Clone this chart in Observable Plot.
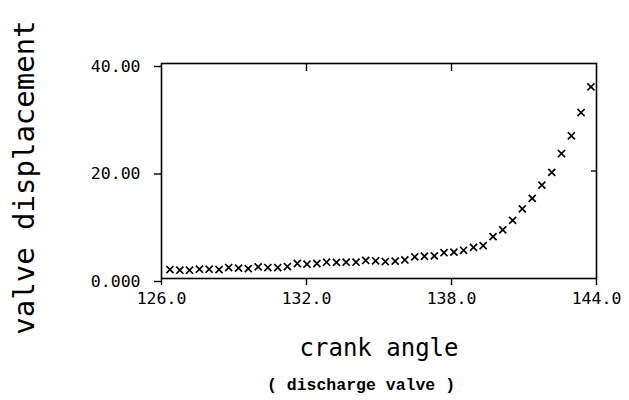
<!DOCTYPE html>
<html><head><meta charset="utf-8">
<script src="https://cdn.jsdelivr.net/npm/d3@7"></script>
<script src="https://cdn.jsdelivr.net/npm/@observablehq/plot@0.6"></script>
<style>html,body{margin:0;padding:0;background:#fff;}</style>
</head><body><div id="chart"></div>
<script>
const crankAngle = [126.35, 126.76, 127.16, 127.57, 127.97, 128.38, 128.78, 129.19, 129.59, 130.00,
  130.40, 130.81, 131.21, 131.62, 132.02, 132.43, 132.83, 133.24, 133.64, 134.05,
  134.45, 134.86, 135.26, 135.67, 136.07, 136.48, 136.88, 137.29, 137.69, 138.10,
  138.50, 138.91, 139.31, 139.72, 140.12, 140.53, 140.93, 141.34, 141.74, 142.15,
  142.55, 142.96, 143.36, 143.77];
const displacement = [1.67, 1.54, 1.54, 1.73, 1.73, 1.67, 2.04, 1.92, 1.85, 2.17,
  2.04, 2.04, 2.23, 2.79, 2.66, 2.79, 3.03, 3.00, 3.03, 3.03,
  3.35, 3.30, 3.16, 3.22, 3.45, 4.02, 4.14, 4.20, 4.80, 4.90,
  5.25, 5.80, 6.10, 7.80, 9.05, 10.82, 12.95, 14.90, 17.37, 19.75,
  23.25, 26.55, 30.88, 35.65];
const xTicks = [126, 132, 138, 144];
const xTickLabels = ["126.0", "132.0", "138.0", "144.0"];
const xInnerTicks = [132, 138];
const yTicks = [0, 20, 40];
const yTickLabels = ["0.000", "20.00", "40.00"];
const yInnerTicks = [20];
const xTitle = "crank angle";
const yTitle = "valve displacement";
const caption = "( discharge valve )";

const data = crankAngle.map((x, i) => ({x, y: displacement[i]}));
const mono = "'DejaVu Sans Mono', monospace";

const chart = Plot.plot({
  width: 629, height: 400,
  marginLeft: 161, marginRight: 33, marginTop: 63, marginBottom: 122,
  style: {fontFamily: mono, background: "#fff", color: "#000"},
  x: {domain: [126, 144], label: null},
  y: {domain: [0, 40], label: null},
  marks: [
    Plot.frame({stroke: "#000", strokeWidth: 1.6}),
    Plot.axisX({anchor: "bottom", ticks: xTicks, tickSize: 7, tickPadding: 7, strokeWidth: 1.4,
      tickFormat: d => xTickLabels[xTicks.indexOf(d)], fontSize: 16.5, label: null, ariaLabel: "xlabels"}),
    Plot.axisX({anchor: "top", ticks: xInnerTicks, tickSize: -7, strokeWidth: 1.4, tickFormat: () => "", label: null}),
    Plot.axisY({anchor: "left", ticks: yTicks, tickSize: 7, tickPadding: 14, strokeWidth: 1.4,
      tickFormat: d => yTickLabels[yTicks.indexOf(d)], fontSize: 16.5, dy: 3, label: null, ariaLabel: "ylabels"}),
    Plot.axisY({anchor: "right", ticks: yInnerTicks, tickSize: -6, strokeWidth: 1.4, tickFormat: () => "", label: null}),
    Plot.dot(data, {x: "x", y: "y", symbol: "times", r: 3.3, stroke: "#000", strokeWidth: 1.7}),
    Plot.text([xTitle], {text: d => d, frameAnchor: "bottom", lineAnchor: "bottom", dy: 77, fontSize: 24, ariaLabel: "xtitle"}),
    Plot.text([yTitle], {text: d => d, frameAnchor: "left", textAnchor: "middle", lineAnchor: "bottom", rotate: -90, dx: -128, dy: 6.5, fontSize: 29, ariaLabel: "ytitle"}),
    Plot.text([caption], {text: d => d, frameAnchor: "bottom", lineAnchor: "bottom", dx: -18, dy: 111, fontSize: 16.5,
      fontFamily: "'Liberation Mono', 'DejaVu Sans Mono', monospace", fontWeight: "bold", ariaLabel: "caption"})
  ]
});
const sel = d3.select(chart);
sel.selectAll("g[aria-label='xlabels'] text, g[aria-label='ylabels'] text").attr("letter-spacing", "2.1px");
sel.selectAll("g[aria-label='xtitle'] text").attr("letter-spacing", "3.4px");
sel.selectAll("g[aria-label='ytitle'] text").attr("letter-spacing", "0.6px");
document.getElementById("chart").appendChild(chart);
</script>
</body></html>
